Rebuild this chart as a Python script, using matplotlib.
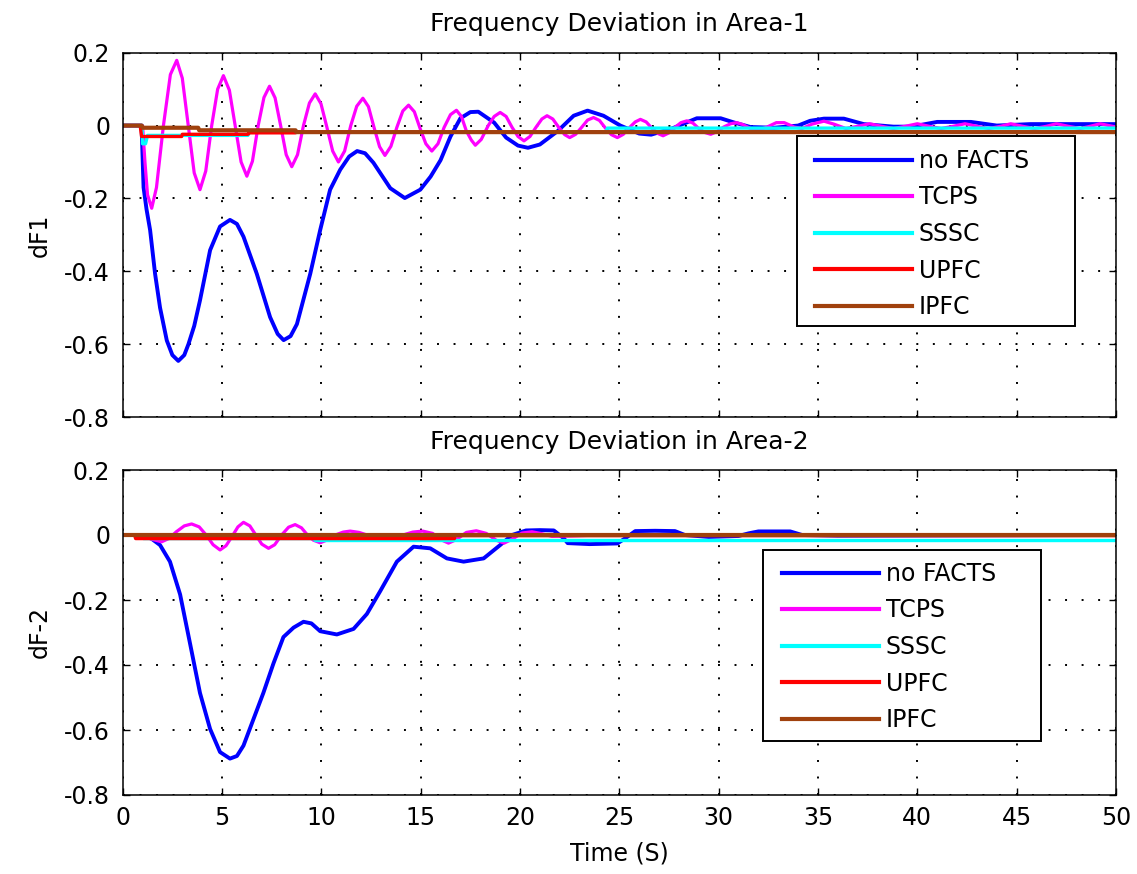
import matplotlib
matplotlib.use("Agg")
import matplotlib.pyplot as plt
from matplotlib.patches import Rectangle

plt.rcParams['font.family'] = ['DejaVu Sans']
plt.rcParams['axes.unicode_minus'] = False

# ---------------- data ----------------
labels = ["no FACTS", "TCPS", "SSSC", "UPFC", "IPFC"]
colors = ["#0000FF", "#FF00FF", "#00FFFF", "#FF0000", "#A0410D"]
xticks = [0, 5, 10, 15, 20, 25, 30, 35, 40, 45, 50]
xticklabels = ["0", "5", "10", "15", "20", "25", "30", "35", "40", "45", "50"]
yticks = [-0.8, -0.6, -0.4, -0.2, 0.0, 0.2]
yticklabels = ["-0.8", "-0.6", "-0.4", "-0.2", "0", "0.2"]

# Area-1
a1_nofacts_t = [0, 0.95, 1.05, 1.2, 1.38, 1.63, 1.88, 2.22, 2.5, 2.8, 3.1, 3.31, 3.6, 3.89,
                4.4, 4.9, 5.4, 5.75, 6.08, 6.75, 7.42, 7.8, 8.1, 8.45, 8.77, 9.44, 9.94,
                10.44, 10.95, 11.4, 11.8, 12.2, 12.62, 13.47, 14.2, 14.98, 15.5, 16.0,
                16.5, 17.0, 17.5, 17.9, 18.7, 19.3, 19.9, 20.4, 21.0, 21.9, 22.7, 23.4,
                24.2, 25.05, 26.0, 26.6, 27.7, 28.9, 30.1, 30.8, 31.6, 32.8, 34.0, 34.6,
                35.3, 36.3, 37.3, 38.8, 39.7, 41.0, 42.7, 44.0, 45.7, 46.9, 47.5, 50]
a1_nofacts_v = [0, 0, -0.17, -0.23, -0.287, -0.407, -0.5, -0.59, -0.63, -0.646, -0.63, -0.6,
                -0.55, -0.48, -0.342, -0.277, -0.259, -0.27, -0.305, -0.407, -0.526, -0.572,
                -0.589, -0.578, -0.545, -0.407, -0.287, -0.176, -0.121, -0.085, -0.07, -0.076,
                -0.102, -0.172, -0.199, -0.176, -0.14, -0.095, -0.03, 0.02, 0.037, 0.038,
                0.008, -0.033, -0.055, -0.061, -0.052, -0.015, 0.027, 0.041, 0.027, 0.0,
                -0.022, -0.025, -0.007, 0.02, 0.02, 0.008, -0.004, -0.006, 0.0, 0.013, 0.019,
                0.019, 0.004, -0.003, -0.003, 0.01, 0.01, 0.0, 0.004, 0.004, 0.004, 0.004]

a1_tcps_t = [0, 1.0, 1.12, 1.25, 1.46, 1.7, 2.05, 2.4, 2.72, 3.0, 3.3, 3.6, 3.89, 4.18, 4.48,
             4.78, 5.07, 5.37, 5.66, 5.96, 6.25, 6.53, 6.82, 7.11, 7.39, 7.67, 7.95, 8.23,
             8.51, 8.8, 9.1, 9.4, 9.69, 9.98, 10.28, 10.57, 10.86, 11.17, 11.48, 11.78,
             12.09, 12.37, 12.65, 12.93, 13.2, 13.5, 13.8, 14.1, 14.39, 14.68, 14.97, 15.26,
             15.56, 15.87, 16.18, 16.5, 16.8, 17.05, 17.3, 17.55, 17.75, 18.05, 18.4, 18.7,
             19.0, 19.3, 19.6, 19.9, 20.2, 20.5, 20.8, 21.1, 21.36, 21.65, 21.95, 22.25,
             22.5, 22.8, 23.1, 23.4, 23.7, 24.0, 24.3, 24.6, 24.9, 25.2, 25.5, 25.8, 26.06,
             26.35, 26.65, 26.95, 27.2, 27.5, 27.8, 28.1, 28.4, 28.7, 29.0, 29.3, 29.6, 29.9,
             30.25, 30.6, 30.9, 31.2, 31.6, 32.0, 32.4, 32.9, 33.3, 33.8, 34.2, 34.7, 35.3,
             35.8, 36.4, 37.0, 37.6, 38.2, 38.8, 39.4, 40.0, 40.6, 41.2, 41.8, 42.4, 43.0,
             43.6, 44.2, 44.7, 45.3, 45.9, 46.5, 47.0, 47.6, 48.2, 48.7, 49.2, 50.0]
a1_tcps_v = [0, 0, -0.1, -0.19, -0.227, -0.17, 0.0, 0.14, 0.179, 0.13, 0.0, -0.13, -0.176,
             -0.125, 0.0, 0.1, 0.137, 0.097, 0.0, -0.1, -0.139, -0.098, 0.0, 0.077, 0.108,
             0.076, 0.0, -0.08, -0.113, -0.08, 0.0, 0.062, 0.087, 0.06, -0.005, -0.07, -0.1,
             -0.07, 0.0, 0.053, 0.075, 0.052, -0.005, -0.058, -0.082, -0.057, -0.005, 0.04,
             0.056, 0.038, -0.008, -0.05, -0.07, -0.05, -0.005, 0.03, 0.042, 0.025, -0.015,
             -0.04, -0.054, -0.038, 0.0, 0.025, 0.036, 0.025, -0.005, -0.03, -0.042, -0.03,
             -0.005, 0.018, 0.027, 0.018, -0.005, -0.025, -0.033, -0.024, -0.005, 0.015,
             0.022, 0.014, -0.007, -0.025, -0.033, -0.024, -0.006, 0.01, 0.017, 0.01, -0.008,
             -0.022, -0.028, -0.02, -0.005, 0.008, 0.013, 0.007, -0.008, -0.019, -0.024,
             -0.017, -0.004, 0.005, 0.008, 0.003, -0.008, -0.012, -0.005, 0.008, 0.008,
             -0.004, -0.008, 0.004, 0.012, 0.004, -0.008, -0.002, 0.005, -0.002, -0.008,
             -0.002, 0.005, -0.002, -0.008, -0.002, 0.005, -0.002, -0.008, -0.002, 0.005,
             -0.002, -0.008, -0.002, 0.005, -0.002, -0.008, -0.002, 0.005, -0.004]

a1_sssc_t = [0, 0.97, 1.0, 1.15, 1.25, 6.3, 6.4, 24.3, 24.4, 50]
a1_sssc_v = [0, 0, -0.05, -0.05, -0.027, -0.027, -0.018, -0.018, -0.007, -0.007]

a1_upfc_t = [0, 0.88, 0.95, 2.97, 3.0, 6.3, 6.35, 8.7, 8.75, 50]
a1_upfc_v = [0, 0, -0.03, -0.03, -0.024, -0.024, -0.02, -0.02, -0.018, -0.018]

a1_ipfc_t = [0, 0.96, 1.0, 3.8, 3.85, 8.7, 8.75, 50]
a1_ipfc_v = [0, 0, -0.006, -0.006, -0.013, -0.013, -0.018, -0.018]

# Area-2
a2_nofacts_t = [0, 1.2, 1.88, 2.38, 2.89, 3.39, 3.89, 4.4, 4.9, 5.4, 5.75, 6.08, 6.58, 7.08,
                7.59, 8.09, 8.6, 9.1, 9.5, 9.94, 10.78, 11.62, 12.29, 12.96, 13.8, 14.64,
                15.48, 16.32, 17.16, 18.17, 19.0, 19.6, 20.3, 21.0, 21.7, 22.2, 22.4, 23.5,
                24.9, 25.3, 25.8, 26.8, 27.8, 28.3, 29.5, 31.0, 31.5, 32.0, 33.0, 33.6, 34.2,
                36.0, 50]
a2_nofacts_v = [0, 0, -0.031, -0.082, -0.183, -0.334, -0.486, -0.597, -0.668, -0.688, -0.68,
                -0.648, -0.567, -0.486, -0.395, -0.314, -0.285, -0.267, -0.272, -0.296,
                -0.306, -0.289, -0.243, -0.173, -0.082, -0.036, -0.041, -0.072, -0.082,
                -0.072, -0.031, 0.0, 0.014, 0.015, 0.014, -0.01, -0.025, -0.028, -0.026,
                -0.01, 0.012, 0.013, 0.012, 0.0, -0.006, -0.003, 0.005, 0.011, 0.011, 0.011,
                0.0, -0.002, 0.0]

a2_tcps_t = [0, 1.0, 1.4, 1.96, 2.35, 2.7, 3.1, 3.47, 3.85, 4.2, 4.55, 4.9, 5.2, 5.5, 5.8,
             6.08, 6.4, 6.7, 7.0, 7.34, 7.65, 8.0, 8.35, 8.68, 9.0, 9.3, 9.6, 9.94, 10.3,
             10.7, 11.1, 11.45, 11.9, 12.5, 13.3, 14.0, 14.6, 15.1, 15.6, 16.0, 16.4, 16.8,
             17.3, 17.8, 18.3, 18.8, 19.2, 19.6, 20.1, 20.6, 21.1, 21.6, 22.5, 24.0, 50.0]
a2_tcps_v = [0, 0, -0.012, -0.021, -0.01, 0.01, 0.028, 0.034, 0.025, 0.0, -0.03, -0.046,
             -0.033, -0.005, 0.025, 0.039, 0.028, 0.0, -0.028, -0.041, -0.03, 0.0, 0.024,
             0.032, 0.022, 0.0, -0.016, -0.024, -0.015, 0.0, 0.009, 0.012, 0.008, -0.004,
             -0.008, -0.002, 0.009, 0.012, 0.005, -0.014, -0.025, -0.014, 0.008, 0.013,
             0.005, -0.016, -0.025, -0.013, 0.006, 0.01, 0.004, -0.004, -0.003, 0.0, 0.0]

a2_sssc_t = [0, 1.0, 1.05, 9.6, 9.7, 50]
a2_sssc_v = [0, 0, -0.011, -0.011, -0.017, -0.017]

a2_upfc_t = [0, 0.6, 0.65, 16.7, 16.75, 50]
a2_upfc_v = [0, 0, -0.011, -0.011, -0.002, -0.002]

a2_ipfc_t = [0, 50]
a2_ipfc_v = [0, 0]

area1 = [(a1_nofacts_t, a1_nofacts_v), (a1_tcps_t, a1_tcps_v), (a1_sssc_t, a1_sssc_v),
         (a1_upfc_t, a1_upfc_v), (a1_ipfc_t, a1_ipfc_v)]
area2 = [(a2_nofacts_t, a2_nofacts_v), (a2_tcps_t, a2_tcps_v), (a2_sssc_t, a2_sssc_v),
         (a2_upfc_t, a2_upfc_v), (a2_ipfc_t, a2_ipfc_v)]

# ---------------- figure ----------------
W, H = 1137, 874
fig = plt.figure(figsize=(W / 100, H / 100), dpi=100)

X0, X1 = 122.7, 1116
L = X0 / W
AW = (X1 - X0) / W
ax1 = fig.add_axes([L, 1 - 417 / H, AW, (417 - 52.7) / H])
ax2 = fig.add_axes([L, 1 - 795 / H, AW, (795 - 470) / H])

FS = 17
TFS = 18
lws = [2.8, 2.3, 2.4, 2.4, 3.0]

def style(ax, title, ylabel, show_x, tpad):
    ax.set_xlim(0, 50)
    ax.set_ylim(-0.8, 0.2)
    ax.set_xticks(xticks)
    ax.set_yticks(yticks)
    ax.set_yticklabels(yticklabels, fontsize=FS)
    if show_x:
        ax.set_xticklabels(xticklabels, fontsize=FS)
    else:
        ax.set_xticklabels([])
    ax.tick_params(axis='y', direction='in', length=5, width=1.0, right=True, pad=9)
    ax.tick_params(axis='x', direction='in', length=5, width=1.0, top=True, pad=8)
    ax.grid(True, color='black', linestyle=(0, (1.0, 7.5)), linewidth=1.4)
    for s in ax.spines.values():
        s.set_linewidth(1.1)
    ax.set_title(title, fontsize=TFS, pad=tpad)
    ax.set_ylabel(ylabel, fontsize=FS)
    ax.yaxis.set_label_coords(-(X0 - 52) / (X1 - X0), 0.5)

for ax, data in [(ax1, area1), (ax2, area2)]:
    for (t, v), lab, c, lw in zip(data, labels, colors, lws):
        ax.plot(t, v, color=c, linewidth=lw, label=lab)

style(ax1, "Frequency Deviation in Area-1", "dF1", False, 15.5)
style(ax2, "Frequency Deviation in Area-2", "dF-2", True, 15.0)
ax2.set_xlabel("Time (S)", fontsize=FS)
ax2.xaxis.set_label_coords(0.5, -(842 - 795) / (795 - 470))

def add_leg(ax, box, handle_x, yc):
    x0, y0, x1, y1 = box
    rect = Rectangle((x0 / W, 1 - y1 / H), (x1 - x0) / W, (y1 - y0) / H,
                     transform=fig.transFigure, facecolor='white', edgecolor='black',
                     linewidth=1.4, zorder=4, clip_on=False)
    ax.add_patch(rect)
    leg = ax.legend(loc='center left', bbox_to_anchor=(handle_x / W, 1 - yc / H),
                    bbox_transform=fig.transFigure, fontsize=FS, frameon=False,
                    borderaxespad=0, borderpad=0, handlelength=4.1,
                    handletextpad=0.3, labelspacing=0.53)
    leg.set_zorder(5)
    for ln in leg.get_lines():
        ln.set_linewidth(3.0)
    return leg

add_leg(ax1, (797, 136, 1075, 326), 815, 234)
add_leg(ax2, (763, 550, 1041, 741), 782, 647)

fig.savefig("out.png", dpi=100)
